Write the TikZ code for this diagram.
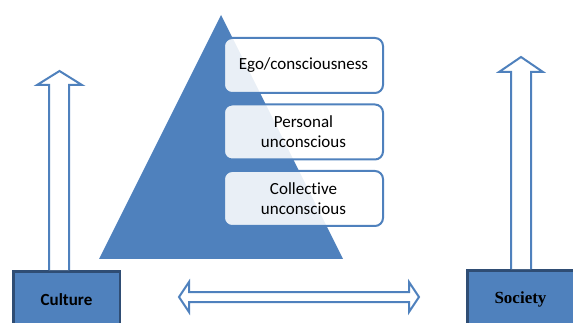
\documentclass[tikz,border=0pt]{standalone}
\usepackage{fontspec}
\setmainfont{Carlito}[Ligatures=NoCommon]
\newfontfamily\timesfont{Liberation Serif}
\usepackage{tikz}
\usetikzlibrary{positioning}
\definecolor{pyblue}{HTML}{4F81BD}
\definecolor{pynavy}{HTML}{2F4D74}
\tikzset{
  layer/.style    = {shape=rectangle, rounded corners=8pt,
                     draw=pyblue, line width=2pt, align=center,
                     fill=white, fill opacity=.88, text opacity=1,
                     minimum width=159pt, minimum height=55pt,
                     font=\fontsize{17}{20}\selectfont},
  base/.style     = {shape=rectangle, draw=pynavy, line width=2.5pt,
                     fill=pyblue, minimum width=106.5pt,
                     minimum height=57.5pt},
  hollow/.style   = {draw=pyblue, line width=2pt, fill=white,
                     line join=miter}
}

\begin{document}
\begin{tikzpicture}[x=1pt,y=-1pt, node distance=9.5pt]
  \useasboundingbox (0,0) rectangle (573,323);
  \clip (0,0) rectangle (573,323);
  % pyramid
  \coordinate (apex) at (221,15);
  \fill[pyblue] (apex) -- (343,259) -- (99,259) -- cycle;
  % layers of the psyche
  \node [layer] (ego) at (303.5,65.5) {Ego/consciousness};
  \node [layer, below=of ego] (pers) {Personal\\unconscious};
  \node [layer, below=of pers] (coll) {Collective\\unconscious};
  % culture and society
  \node [base, font=\fontsize{17}{20}\selectfont\bfseries] (culture) at (66.5,300) {Culture};
  \node [base, font=\fontsize{17}{20}\selectfont\timesfont\bfseries] (society) at (520.5,299) {Society};
  % arrows
  \draw [hollow] (49,0 |- culture.north) -- (49,85) -- (37,85) -- (59.5,71)
    -- (82,85) -- (69,85) -- (69,0 |- culture.north);
  \draw [hollow] (511,0 |- society.north) -- (511,72) -- (499,72) -- (521,57)
    -- (543,72) -- (531,72) -- (531,0 |- society.north);
  \draw [hollow] (179,297) -- (189,282) -- (189,292) -- (409,292) -- (409,282)
    -- (419,297) -- (409,312) -- (409,302) -- (189,302) -- (189,312) -- cycle;
\end{tikzpicture}
\end{document}
